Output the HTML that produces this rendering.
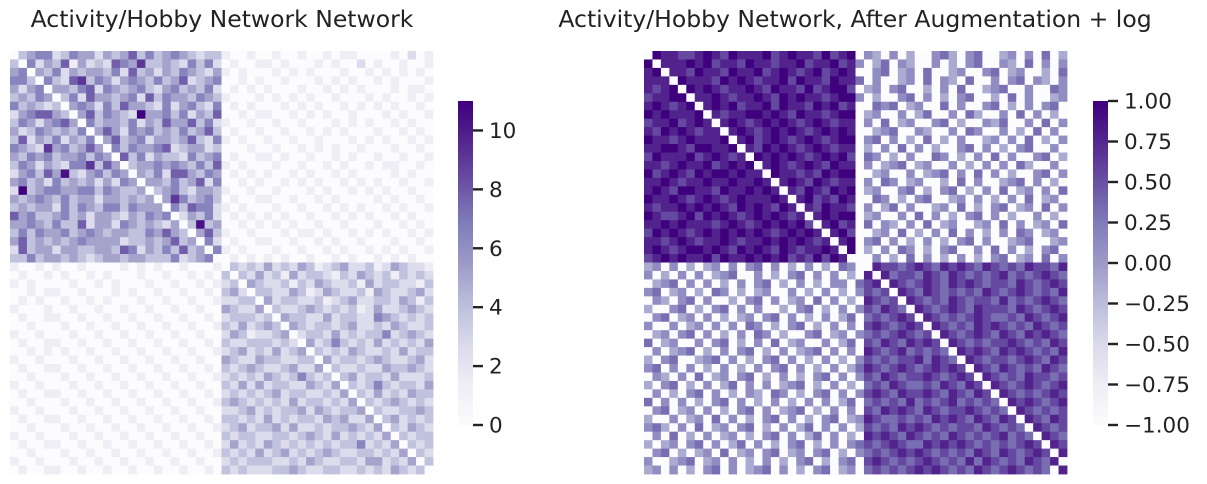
<!DOCTYPE html>
<html><head><meta charset="utf-8"><style>
body{margin:0;background:#fff;font-family:"DejaVu Sans","Liberation Sans",sans-serif;}
#wrap{position:relative;width:1207px;height:484px;overflow:hidden;}
.title{position:absolute;top:5px;font-size:23.5px;color:#222;white-space:nowrap;transform:translateX(-50%);}
</style></head><body>
<div id="wrap">
<div class="title" style="left:222px">Activity/Hobby Network Network</div>
<div class="title" style="left:855px">Activity/Hobby Network, After Augmentation + log</div>
<svg id="svg" width="1207" height="484" style="position:absolute;left:0;top:0"></svg>
</div>
<script>
const leftRows = [
"03455 23544 24346 35345 43233|10010 01001 00101 10000 10201",
"30524 36142 32654 73343 25352|01001 10100 01010 02010 01001",
"45043 52434 43526 34243 54324|10100 01010 10001 00101 01010",
"55305 32673 54245 43534 62345|00101 00100 01010 10010 10001",
"42450 44356 25434 53245 34352|01010 10001 00101 01000 10110",
"34354 03526 44345 26354 43543|10001 01010 10010 00101 00101",
"53432 30454 25364 43252 45325|01010 00101 01001 01010 10010",
"24566 43046 35432 94453 52436|00101 10010 10100 10001 01001",
"35424 56405 34435 24364 46352|10010 01001 00010 10100 10100",
"42354 34350 46425 45343 53463|01001 00100 10101 00010 01010",
"36243 52435 04634 52443 46325|10100 10010 01000 10101 00101",
"54327 45346 40535 44562 34423|00010 01001 01010 01000 10010",
"43545 34453 54063 52433 25345|01001 10100 10010 10010 01001",
"35424 32557 36403 44545 43536|10100 01001 00101 00101 10010",
"24536 48324 53540 43526 64354|01010 10010 10010 10000 10100",
"45342 53434 24254 04435 34625|00101 00101 01001 01010 01001",
"29345 54455 35433 40345 32443|10010 01000 10100 10101 00100",
"43454 35344 24434 34047 53453|01001 10010 01010 00010 10010",
"34344 25354 35535 44405 36552|10100 01001 00101 01001 01001",
"64533 45342 44324 35450 24352|01010 10100 10010 10100 10100",
"44543 53362 44254 34324 03834|00101 01010 01001 00010 01010",
"35354 45345 43443 35464 30463|10010 00101 10100 10101 00101",
"46343 43454 44423 34346 34052|01001 10010 01010 01000 10010",
"26344 24433 44365 24353 63405|10100 01001 00101 00101 01001",
"33534 43432 34434 43335 23450|01010 10100 10010 10010 10100",
"10010 10010 00010 10100 10001|03232 42324 31234 22312 43221",
"01001 01001 01000 10010 01010|30324 23142 33213 24323 13232",
"10100 00100 10100 01001 00101|23043 22313 24322 31423 32213",
"00101 10010 00101 00100 10010|34203 32243 12432 23143 22342",
"01010 01001 01000 10010 01001|22330 42332 23123 42233 24313",
"10001 00100 10010 01001 00100|43224 03223 43232 31242 23432",
"01001 10010 01001 00100 10010|23332 30433 22423 32254 32323",
"00100 01001 00100 10010 01001|32423 43043 23323 42232 43223",
"10010 00100 10010 01001 00100|24312 23402 33242 32335 23432",
"01001 10010 01001 00100 10010|32233 32320 42353 23242 32324",
"00101 01001 00100 10010 01001|23423 24234 03232 43223 24233",
"10010 00100 10010 01001 00100|43224 33223 30423 32343 22342",
"01001 10010 01001 00100 10010|32343 22342 24032 23224 33432",
"00100 01001 00100 10010 01001|23232 43235 32303 42332 42223",
"10010 00100 10010 01001 00100|32424 23322 43240 32353 23324",
"01001 10010 01001 00100 10010|23232 34233 22324 03242 32433",
"00100 01001 00100 10010 01001|34323 23242 33232 40323 43232",
"10010 00100 10010 01001 00100|22342 32334 24323 34032 23343",
"01001 10010 01001 00100 10010|33232 42323 32434 22403 42323",
"00100 01001 00100 10010 01001|23423 34242 23233 43240 32432",
"10010 00100 10010 01001 00100|32332 23323 43242 32324 03233",
"01001 10010 01001 00100 10010|24232 43232 32323 35232 40323",
"00100 01001 00100 10010 01001|32324 23423 23432 23323 24032",
"10010 00100 10010 01001 00100|23233 32232 43223 32442 32403",
"01001 10010 01001 00100 10010|32322 23343 22332 23232 43230"
];
const rightRows = [
"09887 78987 98889 78988 79789|05405 04005 64056 00450 50604",
"90888 98978 87988 78897 88978|50460 54005 04056 00540 60505",
"89088 79887 98897 89878 97898|00560 45060 04500 56045 00406",
"88809 88879 89878 89798 87988|60500 45060 54060 05056 05405",
"87890 98987 88987 98879 78997|04505 60040 50600 45600 50065",
"78899 08898 78898 79898 87899|50400 56050 40560 04060 50045",
"89878 90898 97889 79887 98978|00656 04500 60500 56040 50560",
"98988 89087 88998 98798 87899|04500 50460 05064 00506 05040",
"78897 89808 98789 89878 98788|05060 45005 60400 54600 50605",
"87989 87880 89878 98987 89898|00456 00540 05065 00504 06050",
"98878 98889 08978 98789 87899|05605 04060 40500 45050 60405",
"88998 79988 90879 89878 98788|04050 60504 00560 50405 60050",
"79888 97898 78098 98987 89897|06504 05006 50405 06050 05604",
"88789 88978 98908 98789 87988|05045 60450 05040 50506 40050",
"97898 79899 89880 98878 79899|00450 05045 60506 05040 05605",
"88987 88988 98898 08987 98788|05065 04500 40605 00456 05040",
"89879 98879 88989 80879 87989|04500 56040 56040 50604 50506",
"98898 78987 89888 98089 78798|00650 40560 04505 04050 60450",
"87889 89898 79898 79808 79887|05046 05004 50604 05604 50605",
"98778 97989 87898 98780 89899|04500 50605 04056 05040 05040",
"88989 88878 98789 89897 08978|06054 05060 45004 50605 04506",
"79898 78989 89898 78989 80897|00450 60405 06050 40506 50450",
"88789 87889 87889 89898 78089|05605 04050 40560 50045 60045",
"89878 99898 79898 79878 89809|04050 65040 56005 06050 40560",
"78989 88979 88989 89787 97980|00504 06050 40504 05604 50605",
"45050 40450 50560 50405 04065|00877 67876 87876 87676 87768",
"50405 05045 60050 40560 50504|08086 77687 68767 67867 67876",
"04560 50504 05056 04050 40550|67808 76787 68787 67768 76787",
"56045 04065 04045 00504 05040|57670 87687 67676 87678 76768",
"05405 60500 40560 50450 60504|08767 08767 68767 76867 67876",
"40056 04056 05050 04056 04050|57687 60876 78768 77768 76787",
"05604 50504 04505 60504 05046|06767 87087 67678 76676 87678",
"50050 45050 50650 40560 40505|07876 78708 76768 78767 68767",
"04505 60504 05065 04005 60450|56767 87670 87678 76876 87876",
"60450 05056 04050 60450 05046|07687 68787 08767 67787 67687",
"05045 60405 05604 05045 60505|08767 86767 60878 76878 76768",
"40560 04560 50405 60504 05040|57676 77868 76087 67767 87687",
"56050 50405 04050 56050 40504|68767 87678 78708 76876 76876",
"05405 06045 05604 05040 56050|57687 67787 67870 87676 87767",
"40560 40504 60505 04560 40504|06768 76676 87687 08767 87678",
"05040 56050 40540 65040 56050|57876 87787 68768 70876 76787",
"60505 04056 05040 50405 05046|06767 68676 78676 76087 87678",
"05604 50504 05605 04560 40505|07687 87687 67787 67608 76767",
"40050 45060 50405 60504 05604|58766 76768 78768 76870 87687",
"56405 06045 05604 05046 05050|47676 87876 76776 87676 08767",
"05060 40504 50405 60504 60504|08787 68767 68767 67867 60876",
"40450 56050 46050 40560 40505|67678 76687 87876 76767 87087",
"05604 04506 04505 60450 56040|56767 87876 76768 76876 78708",
"50045 60450 50405 04056 04056|07876 76787 67686 87676 87680",
"45050 40560 50456 05040 56045|06767 67878 76768 76787 67608"
];
const leftTicks = [0,2,4,6,8,10];
const rightTicks = [-1.00,-0.75,-0.50,-0.25,0.00,0.25,0.50,0.75,1.00];
const leftMax = 11;
const stops=["#fcfbfd","#efedf5","#dadaeb","#bcbddc","#9e9ac8","#807dba","#6a51a3","#54278f","#3f007d"];
function hex(h){return [1,3,5].map(i=>parseInt(h.substr(i,2),16));}
function cmap(t){t=Math.max(0,Math.min(1,t));const p=t*8,i=Math.min(7,Math.floor(p)),f=p-i;const a=hex(stops[i]),b=hex(stops[i+1]);return "rgb("+a.map((v,k)=>Math.round(v+(b[k]-v)*f)).join(",")+")";}
const NS="http://www.w3.org/2000/svg";
const svg=document.getElementById("svg");
function el(tag,attrs,parent){const e=document.createElementNS(NS,tag);for(const k in attrs)e.setAttribute(k,attrs[k]);(parent||svg).appendChild(e);return e;}
function norm(r){const p=r.split("|").map(s=>s.replace(/\s/g,"").padEnd(25,"0").slice(0,25));return p.join("");}
function heat(rows,x0,y0,size,valFn,name){
  const g=el("g",{});
  
  
  const n=rows.length,c=size/n;
  rows.forEach((raw,i)=>{const r=norm(raw);for(let j=0;j<r.length;j++){
    const rc=el("rect",{x:(x0+j*c).toFixed(2),y:(y0+i*c).toFixed(2),width:(c+0.4).toFixed(2),height:(c+0.4).toFixed(2),fill:cmap(valFn(+r[j]))},g);
    
    
  }});
}
heat(leftRows,10,51,423,d=>(d*1.3)/leftMax,"left-heatmap");
heat(rightRows,644,51,423,d=>d/9,"right-heatmap");
function cbar(x,y0,y1,vmin,vmax,ticks,fmt,name){
  const g=el("g",{});
  
  
  const N=100,h=(y1-y0)/N;
  for(let i=0;i<N;i++){const r=el("rect",{x:x,y:(y1-(i+1)*h).toFixed(2),width:15,height:(h+0.5).toFixed(2),fill:cmap((i+0.5)/N)},g);
    
    }
  ticks.forEach(t=>{const yy=y1-(t-vmin)/(vmax-vmin)*(y1-y0);
    const l=el("line",{x1:x+15,x2:x+25,y1:yy,y2:yy,stroke:"#222","stroke-width":2.4},g);
    
    
    const tx=el("text",{x:x+31,y:yy+7.5,"font-size":21.5,fill:"#222","font-family":"DejaVu Sans, Liberation Sans, sans-serif"},g);
    
    
    tx.textContent=fmt(t);});
}
cbar(458,101,425,0,leftMax,leftTicks,t=>String(t),"left-colorbar");
cbar(1093,101,425,-1,1,rightTicks,t=>(t<0?"\u2212":"")+Math.abs(t).toFixed(2),"right-colorbar");
</script>
</body></html>
